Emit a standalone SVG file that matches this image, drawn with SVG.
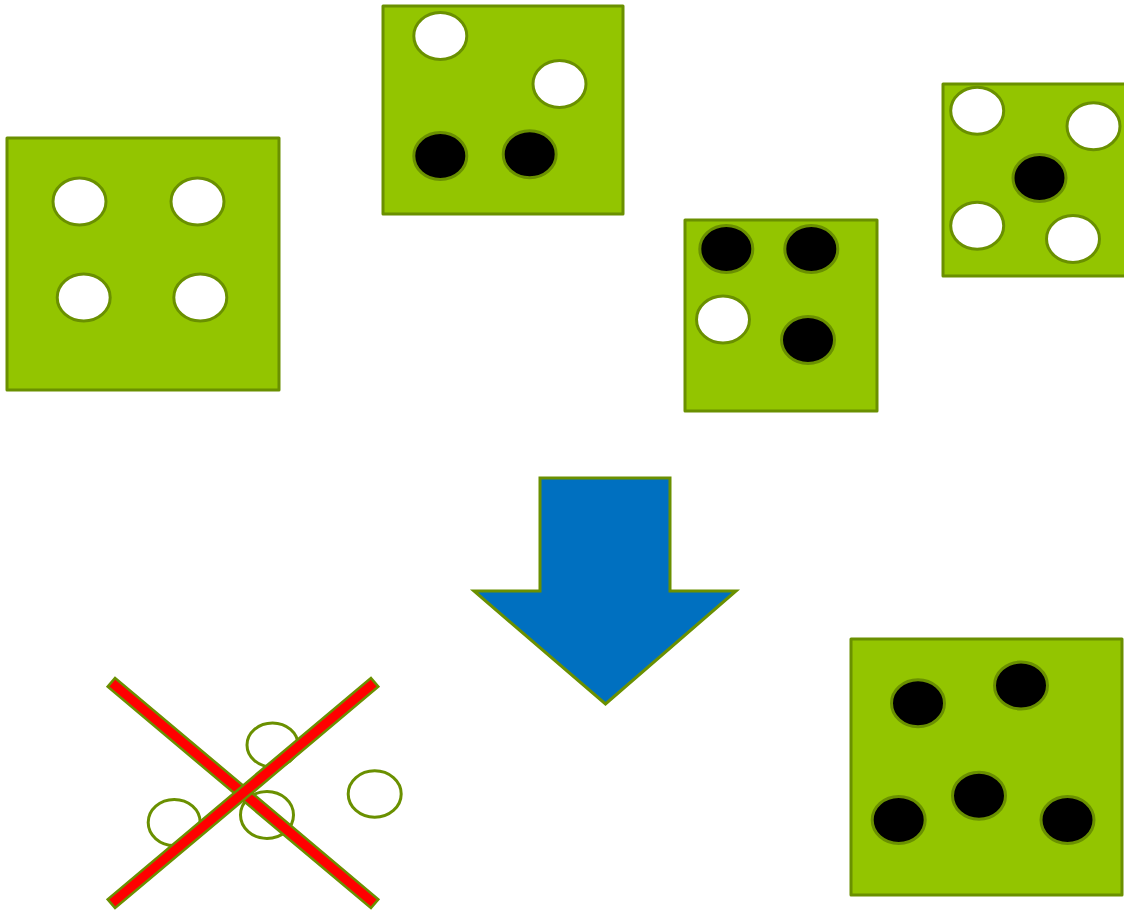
<svg xmlns="http://www.w3.org/2000/svg" width="1124" height="913" viewBox="0 0 1124 913">
<style>
.die{fill:#93C500;stroke:#6A9000;stroke-width:3;stroke-linejoin:round}
.w{fill:#FFFFFF;stroke:#6A9000;stroke-width:3}
.b{fill:#000000;stroke:#6A9000;stroke-width:3}
.o{fill:none;stroke:#6A9000;stroke-width:3}
.bar{fill:#FF0000;stroke:#6A9000;stroke-width:2.5}
.arrow{fill:#0070C0;stroke:#6A9000;stroke-width:3}
</style>
<rect width="1124" height="913" fill="#FFFFFF"/>
<g id="die1">
<rect class="die" x="7" y="138" width="272" height="252"/>
<ellipse class="w" cx="79.5" cy="201.5" rx="26.5" ry="23.5"/>
<ellipse class="w" cx="197.5" cy="201.5" rx="26.5" ry="23.5"/>
<ellipse class="w" cx="83.7" cy="297.5" rx="26.5" ry="23.5"/>
<ellipse class="w" cx="200.3" cy="297.5" rx="26.5" ry="23.5"/>
</g>
<g id="die2">
<rect class="die" x="383" y="6" width="240" height="208"/>
<ellipse class="w" cx="440.3" cy="36" rx="26.5" ry="23.5"/>
<ellipse class="w" cx="559.5" cy="84" rx="26.5" ry="23.5"/>
<ellipse class="b" cx="440.3" cy="156" rx="26.5" ry="23.5"/>
<ellipse class="b" cx="529.7" cy="154.3" rx="26.5" ry="23.5"/>
</g>
<g id="die3">
<rect class="die" x="685" y="220" width="192" height="191"/>
<ellipse class="b" cx="726.3" cy="249" rx="26.5" ry="23.5"/>
<ellipse class="b" cx="811.3" cy="249" rx="26.5" ry="23.5"/>
<ellipse class="w" cx="723" cy="319.5" rx="26.5" ry="23.5"/>
<ellipse class="b" cx="808" cy="340" rx="26.5" ry="23.5"/>
</g>
<g id="die4">
<rect class="die" x="943" y="84" width="190" height="192"/>
<ellipse class="w" cx="977.2" cy="110.8" rx="26.5" ry="23.5"/>
<ellipse class="w" cx="1093.5" cy="126.2" rx="26.5" ry="23.5"/>
<ellipse class="b" cx="1039.5" cy="178" rx="26.5" ry="23.5"/>
<ellipse class="w" cx="977.2" cy="225.7" rx="26.5" ry="23.5"/>
<ellipse class="w" cx="1073" cy="239" rx="26.5" ry="23.5"/>
</g>
<g id="die5">
<rect class="die" x="851" y="639" width="271" height="256"/>
<ellipse class="b" cx="918" cy="703.3" rx="26.5" ry="23.5"/>
<ellipse class="b" cx="1021" cy="685.5" rx="26.5" ry="23.5"/>
<ellipse class="b" cx="979" cy="795.7" rx="26.5" ry="23.5"/>
<ellipse class="b" cx="898.7" cy="820" rx="26.5" ry="23.5"/>
<ellipse class="b" cx="1067.5" cy="820" rx="26.5" ry="23.5"/>
</g>
<g id="rejected">
<ellipse class="o" cx="272.5" cy="745" rx="25.5" ry="22"/>
<ellipse class="o" cx="374.7" cy="794" rx="26.5" ry="23.2"/>
<ellipse class="o" cx="174.2" cy="822.5" rx="26" ry="23"/>
<ellipse class="o" cx="267" cy="815" rx="26.5" ry="23.5"/>
<rect class="bar" x="-172" y="-5.75" width="344" height="11.5" transform="translate(243 793) rotate(40.06)"/>
<rect class="bar" x="-172" y="-5.75" width="344" height="11.5" transform="translate(243 793) rotate(-40.06)"/>
</g>
<g id="connectors">
<polygon class="arrow" points="540,478 670,478 670,591 736,591 605.5,704 474,591 540,591"/>
</g>
</svg>
